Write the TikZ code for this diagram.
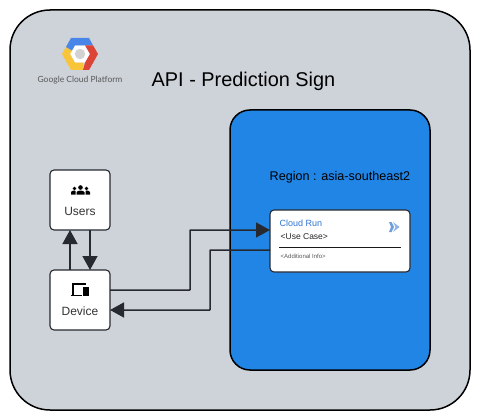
\documentclass[tikz,border=0pt]{standalone}
\usepackage{fontspec}
\setmainfont{Liberation Sans}
\newfontfamily\logofont{Lato}
\usetikzlibrary{arrows.meta}
\definecolor{bggray}{HTML}{CED2D9}
\definecolor{regionblue}{HTML}{2185E5}
\definecolor{linedark}{HTML}{262A30}
\definecolor{cloudblue}{HTML}{2F74D0}
\definecolor{logoblue}{HTML}{4A86E8}
\definecolor{logoyellow}{HTML}{F8C53A}
\definecolor{logored}{HTML}{DB4437}
\tikzset{
  panel/.style={draw=black,line width=1.5pt,rounded corners=#1},
  actor/.style={draw=linedark,line width=1.1pt,fill=white,rounded corners=4pt,minimum width=60pt,minimum height=60pt,inner sep=0pt},
  conn/.style={draw=linedark,line width=1.5pt,-{Triangle[length=14pt,width=15pt]},rounded corners=0.5pt},
  lbl/.style={inner sep=0pt,text=black},
}
\begin{document}
\begin{tikzpicture}[x=1pt,y=-1pt]
\useasboundingbox (0,0) rectangle (480,420);
\fill[white] (0,0) rectangle (480,420);
\draw[panel=40pt,fill=bggray] (10,10) rectangle (470,410);
\draw[panel=20pt,fill=regionblue] (230,110) rectangle (430,370);
% logo
\begin{scope}[shift={(80,54)}]
\fill[white] (-10,0) -- (-5,-8.7) -- (5,-8.7) -- (10,0) -- (5,8.7) -- (-5,8.7) -- cycle;
\fill[logoyellow] (-18,0) -- (-14,-7) -- (-8,-3.5) -- (-10,0) -- (-5,8.7) -- (3,8.7) -- (3,16) -- (-9,16) -- cycle;
\fill[logoblue] (-9,-16) -- (9,-16) -- (13,-8.7) -- (5,-8.7) -- (-5,-8.7) -- (-8,-3.5) -- (-14,-7) -- cycle;
\fill[logored] (13,-8.7) -- (18,0) -- (9,16) -- (3,16) -- (5,8.7) -- (10,0) -- (5,-8.7) -- cycle;
\fill[gray!35] (0,0) circle (5.2pt);
\end{scope}
\node[lbl,text=black!65,font=\logofont\fontsize{8.5pt}{10pt}\selectfont] (logotext) at (80,80.5) {Google Cloud Platform};
\node[lbl,font=\fontsize{19.9pt}{24pt}\selectfont] (title) at (243.5,81) {API - Prediction Sign};
\node[lbl,font=\fontsize{12.6pt}{15pt}\selectfont] (region) at (340,177) {Region : asia-southeast2};
% actors
\node[actor] (users) at (80,200) {};
\node[actor] (device) at (80,300) {};
\node[lbl,text=black!80,font=\fontsize{12pt}{14pt}\selectfont] (userslbl) at (80,211) {Users};
\node[lbl,text=black!80,font=\fontsize{12pt}{14pt}\selectfont] (devicelbl) at (80,311) {Device};
% users icon
\begin{scope}[shift={(80.5,190.5)}]
\fill[black] (0,-3) circle (2.3pt);
\fill[black] (-6,-2) circle (1.9pt);
\fill[black] (6,-2) circle (1.9pt);
\fill[black] (-4,4) -- (-4,1.8) .. controls (-4,-0.5) and (4,-0.5) .. (4,1.8) -- (4,4) -- cycle;
\fill[black] (-9.5,4) -- (-9.5,2) .. controls (-9.5,0) and (-5.5,-0.5) .. (-5,0.6) -- (-5,4) -- cycle;
\fill[black] (9.5,4) -- (9.5,2) .. controls (9.5,0) and (5.5,-0.5) .. (5,0.6) -- (5,4) -- cycle;
\end{scope}
% device icon
\begin{scope}[shift={(80.5,290)}]
\draw[black,line width=1.1pt] (-7.5,5) -- (-7.5,-6) -- (5,-6);
\draw[black,line width=1.2pt] (-10,5.5) -- (1,5.5);
\fill[black] (2,-3.5) rectangle (8.5,6);
\end{scope}
% cloud run card
\node[actor,minimum width=140pt,minimum height=62pt] (card) at (340,241) {};
\node[lbl,anchor=west,text=cloudblue,font=\fontsize{9pt}{11pt}\selectfont] (cloudrun) at (279.5,223.5) {Cloud Run};
\node[lbl,anchor=west,text=black!85,font=\fontsize{8.5pt}{10pt}\selectfont] (usecase) at (280.5,236.5) {<Use Case>};
\node[lbl,anchor=west,text=black!65,font=\fontsize{6pt}{7pt}\selectfont] (info) at (280.5,256.5) {<Additional Info>};
\draw[black!90,line width=1pt] (279,247) -- (401,247);
\fill[cloudblue!70] (389,222) -- (391.5,222) -- (394,227) -- (391.5,232) -- (389,232) -- (391,227) -- cycle;
\fill[cloudblue!55] (393,222) -- (399.5,227) -- (393,232) -- (395.5,227) -- cycle;
% anchors
\coordinate (u1) at (70,230);
\coordinate (u2) at (90,230);
\coordinate (d1) at (70,270);
\coordinate (d2) at (90,270);
\coordinate (dout) at (110,290);
\coordinate (din) at (110,310);
\coordinate (cin) at (270,230);
\coordinate (cout) at (270,250);
\draw[conn] (d1) -- (u1);
\draw[conn] (u2) -- (d2);
\draw[conn] (dout) -- (190,290) -- (190,230) -- (cin);
\draw[conn] (cout) -- (210,250) -- (210,310) -- (din);
\end{tikzpicture}
\end{document}
